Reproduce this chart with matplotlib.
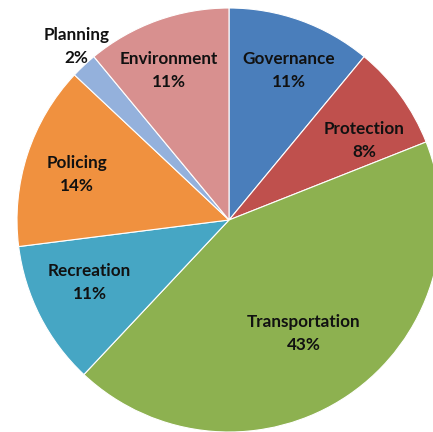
import numpy as np
import matplotlib
matplotlib.use('Agg')
import matplotlib.pyplot as plt

categories = ["Governance", "Protection", "Transportation", "Recreation",
              "Policing", "Planning", "Environment"]
shares = [11, 8, 43, 11, 14, 2, 11]
colors = ["#4A7EBB", "#BF504D", "#8DB150", "#46A6C4", "#F0913F", "#94B1DC", "#D8908F"]
# label placement: distance from centre (fraction of radius) and angle nudge (deg)
label_r = [0.76, 0.74, 0.64, 0.72, 0.75, 1.09, 0.76]
label_shift = [-2, -5.7, -0.7, -3, 1.4, -2, 2.1]

W, H = 433, 432
fig = plt.figure(figsize=(W / 100, H / 100), dpi=100)
cx, cy, R = 229, 220, 212
ax = fig.add_axes([(cx - R) / W, (H - cy - R) / H, 2 * R / W, 2 * R / H])

wedges, _ = ax.pie(shares, colors=colors, startangle=90, counterclock=False,
                   radius=1, wedgeprops=dict(edgecolor='white', linewidth=0.8))
ax.set_xlim(-1, 1)
ax.set_ylim(-1, 1)
ax.set_aspect('auto')
ax.axis('off')

for w, name, pct, r, d in zip(wedges, categories, shares, label_r, label_shift):
    mid = np.deg2rad((w.theta1 + w.theta2) / 2 + d)
    ax.text(r * np.cos(mid), r * np.sin(mid), f"{name}\n{pct}%",
            ha='center', va='center', fontsize=12.3, fontweight='bold',
            family=['Lato', 'DejaVu Sans'], color='#111111', linespacing=1.55)

fig.savefig('out.png', dpi=100)
